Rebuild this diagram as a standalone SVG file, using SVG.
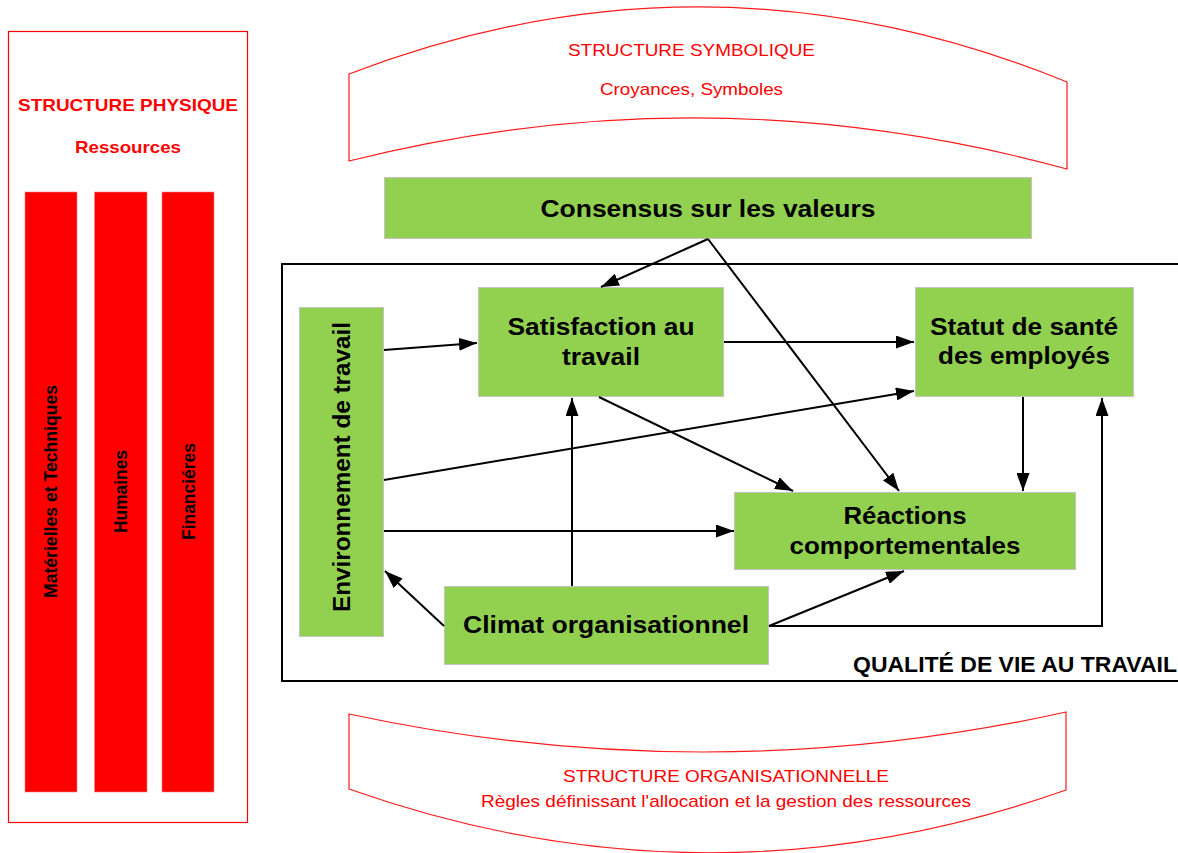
<svg xmlns="http://www.w3.org/2000/svg" width="1178" height="853" viewBox="0 0 1178 853">
  <style>
    .band { fill: none; stroke: #ff1a1a; stroke-width: 1.2; }
    .redtxt { fill: #ff0000; font-family: "Liberation Sans", Arial, sans-serif; font-size: 17px; }
    .redbold { fill: #ff0000; font-family: "Liberation Sans", Arial, sans-serif; font-size: 17px; font-weight: bold; }
    .bar { fill: #ff0000; stroke: #ff8080; stroke-width: 0.6; }
    .bartxt { fill: #000; font-family: "Liberation Sans", Arial, sans-serif; font-size: 17.5px; font-weight: bold; }
    .node { fill: #92d050; stroke: #c3c3c3; stroke-width: 1; }
    .label { fill: #000; font-family: "Liberation Sans", Arial, sans-serif; font-size: 24px; font-weight: bold; text-anchor: middle; }
    .conn { fill: none; stroke: #000; stroke-width: 2; }
  </style>
  <defs>
    <marker id="arrow" markerUnits="userSpaceOnUse" markerWidth="18" markerHeight="13" viewBox="0 0 18 13" refX="18" refY="6.5" orient="auto">
      <path d="M0,0 L18,6.5 L0,13 z" fill="#000"/>
    </marker>
  </defs>

  <rect width="1178" height="853" fill="#fff"/>

  <!-- Physical structure: resources -->
  <g id="structure-physique">
    <rect x="8.5" y="31.5" width="239" height="791" fill="none" stroke="#ff0000" stroke-width="1.2"/>
    <text class="redbold" x="128" y="110.5" text-anchor="middle" textLength="220" lengthAdjust="spacingAndGlyphs">STRUCTURE PHYSIQUE</text>
    <text class="redbold" x="128" y="152.5" text-anchor="middle" textLength="106" lengthAdjust="spacingAndGlyphs">Ressources</text>
    <rect class="bar" x="25" y="192" width="52" height="600"/>
    <rect class="bar" x="94.5" y="192" width="52.5" height="600"/>
    <rect class="bar" x="162" y="192" width="52" height="600"/>
    <text class="bartxt" transform="translate(56.5,491.5) rotate(-90)" text-anchor="middle" textLength="213" lengthAdjust="spacingAndGlyphs">Matérielles et Techniques</text>
    <text class="bartxt" transform="translate(127,491.5) rotate(-90)" text-anchor="middle" textLength="83" lengthAdjust="spacingAndGlyphs">Humaines</text>
    <text class="bartxt" transform="translate(194.5,491.5) rotate(-90)" text-anchor="middle" textLength="97" lengthAdjust="spacingAndGlyphs">Financiéres</text>
  </g>

  <!-- Symbolic structure (upper band) -->
  <g id="structure-symbolique">
    <path class="band" d="M349,74 Q708,-64 1067,82 L1067,169 Q708,71 349,161 Z"/>
    <text class="redtxt" x="691.5" y="55.5" text-anchor="middle" textLength="247" lengthAdjust="spacingAndGlyphs">STRUCTURE SYMBOLIQUE</text>
    <text class="redtxt" x="691.5" y="94.5" text-anchor="middle" textLength="183" lengthAdjust="spacingAndGlyphs">Croyances, Symboles</text>
  </g>

  <!-- Organisational structure (lower band) -->
  <g id="structure-organisationnelle">
    <path class="band" d="M349,714 Q708,791 1066,712 L1066,790 Q708,916 349,789 Z"/>
    <text class="redtxt" x="726" y="781.5" text-anchor="middle" textLength="326" lengthAdjust="spacingAndGlyphs">STRUCTURE ORGANISATIONNELLE</text>
    <text class="redtxt" x="726" y="806.5" text-anchor="middle" textLength="490" lengthAdjust="spacingAndGlyphs">Règles définissant l'allocation et la gestion des ressources</text>
  </g>

  <!-- Quality of working life frame -->
  <g id="qvt">
    <rect x="282" y="264" width="910" height="417" fill="none" stroke="#000" stroke-width="2"/>
    <text x="853" y="672" font-family="'Liberation Sans', Arial, sans-serif" font-size="22" font-weight="bold" fill="#000" textLength="324" lengthAdjust="spacingAndGlyphs">QUALITÉ DE VIE AU TRAVAIL</text>
  </g>

  <g id="consensus">
    <rect class="node" x="384.5" y="177.5" width="647" height="61"/>
    <text class="label" x="708" y="216.5" textLength="335" lengthAdjust="spacingAndGlyphs">Consensus sur les valeurs</text>
  </g>

  <g id="satisfaction">
    <rect class="node" x="478.5" y="287.5" width="245" height="109"/>
    <text class="label" x="601" y="335" textLength="187" lengthAdjust="spacingAndGlyphs">Satisfaction au</text>
    <text class="label" x="601" y="365" textLength="78" lengthAdjust="spacingAndGlyphs">travail</text>
  </g>

  <g id="statut-sante">
    <rect class="node" x="915.5" y="287.5" width="218" height="109"/>
    <text class="label" x="1024" y="335" textLength="188" lengthAdjust="spacingAndGlyphs">Statut de santé</text>
    <text class="label" x="1024" y="364" textLength="172" lengthAdjust="spacingAndGlyphs">des employés</text>
  </g>

  <g id="environnement">
    <rect class="node" x="299.5" y="307.5" width="84" height="329"/>
    <text class="label" transform="translate(350,467) rotate(-90)" textLength="290" lengthAdjust="spacingAndGlyphs">Environnement de travail</text>
  </g>

  <g id="reactions">
    <rect class="node" x="734.5" y="492.5" width="341" height="77"/>
    <text class="label" x="905" y="524" textLength="123" lengthAdjust="spacingAndGlyphs">Réactions</text>
    <text class="label" x="905" y="554" textLength="231" lengthAdjust="spacingAndGlyphs">comportementales</text>
  </g>

  <g id="climat">
    <rect class="node" x="444.5" y="586.5" width="324" height="78"/>
    <text class="label" x="606" y="633" textLength="286" lengthAdjust="spacingAndGlyphs">Climat organisationnel</text>
  </g>

  <!-- Connectors -->
  <g id="connectors">
    <path class="conn" d="M708,239 L601,287" marker-end="url(#arrow)"/>
    <path class="conn" d="M708,239 L899,491" marker-end="url(#arrow)"/>
    <path class="conn" d="M724,342 L914,342" marker-end="url(#arrow)"/>
    <path class="conn" d="M384,350 L477,343" marker-end="url(#arrow)"/>
    <path class="conn" d="M384,480 L914,391" marker-end="url(#arrow)"/>
    <path class="conn" d="M384,531 L734,531" marker-end="url(#arrow)"/>
    <path class="conn" d="M599,397 L793,491" marker-end="url(#arrow)"/>
    <path class="conn" d="M572,586 L572,398" marker-end="url(#arrow)"/>
    <path class="conn" d="M1023,397 L1023,491" marker-end="url(#arrow)"/>
    <path class="conn" d="M769,626 L1102,626 L1102,398" marker-end="url(#arrow)"/>
    <path class="conn" d="M769,626 L904,571" marker-end="url(#arrow)"/>
    <path class="conn" d="M444,626 L385,571" marker-end="url(#arrow)"/>
  </g>
</svg>
